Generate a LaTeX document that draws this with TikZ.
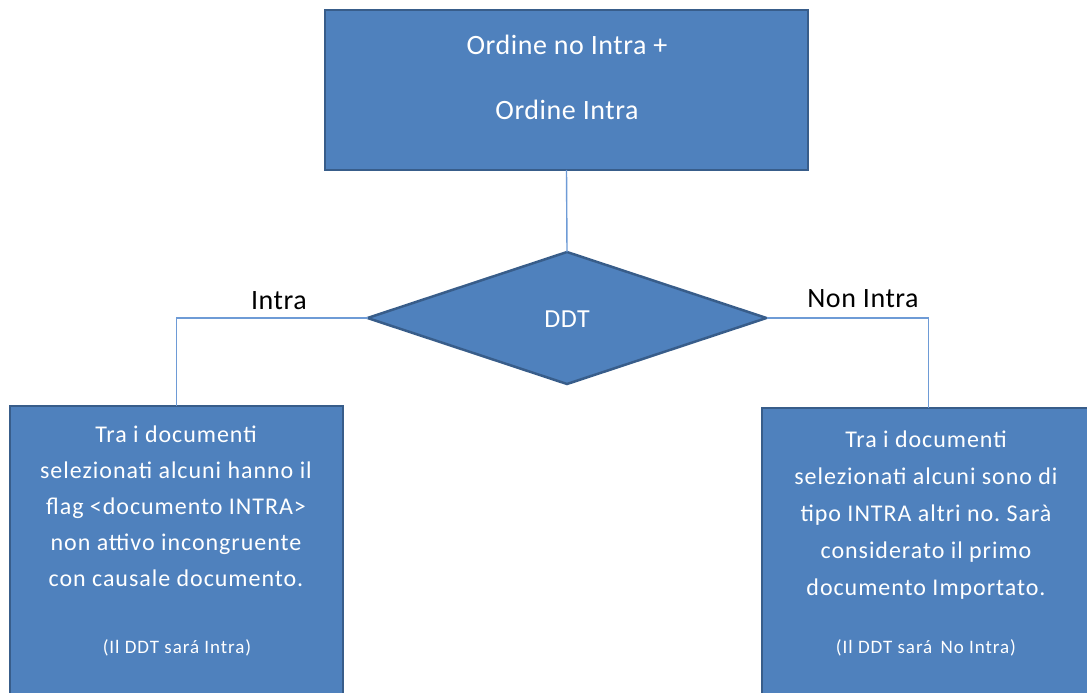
\documentclass[tikz,border=0pt]{standalone}
\usepackage{fontspec}
\setmainfont{Carlito}
\newfontfamily\spwide{Carlito}[LetterSpace=4]
\newfontfamily\spsmall{Carlito}[LetterSpace=5]
\newfontfamily\sptight{Carlito}[LetterSpace=2]
\usetikzlibrary{shapes.geometric}
\frenchspacing
\definecolor{boxfill}{HTML}{4F81BD}
\definecolor{boxline}{HTML}{385D8A}
\definecolor{conn}{HTML}{6E9BD6}
\tikzset{
  flowbox/.style={draw=boxline, line width=2.5pt, fill=boxfill, rectangle, inner sep=0pt, outer sep=0pt, anchor=north west},
  decbox/.style={draw=boxline, line width=2.5pt, fill=boxfill, diamond, inner sep=0pt, outer sep=0pt},
  wtext/.style={text=white, align=center, inner sep=0pt},
  conline/.style={draw=conn, line width=1.4pt},
  lbl/.style={text=black, inner sep=0pt, font=\sptight\fontsize{28}{32}\selectfont}
}
\begin{document}
\begin{tikzpicture}[x=1pt,y=-1pt]
\useasboundingbox (0,0) rectangle (1087,693);
\node[flowbox, minimum width=483pt, minimum height=160pt] (top) at (325,10) {};
\node[decbox, minimum width=399pt, minimum height=132pt] (ddt) at (567,318) {};
\node[flowbox, minimum width=333pt, minimum height=300pt] (left) at (10,406) {};
\node[flowbox, minimum width=333pt, minimum height=300pt] (right) at (762,408) {};
\draw[conline] (top.south) -- (ddt.north);
\draw[conline] (ddt.west) -| (left.north);
\draw[conline] (ddt.east) -| (right.north);
\node[wtext, font=\sptight\fontsize{28}{32}\selectfont] (t1) at (567,45) {Ordine no Intra +};
\node[wtext, font=\sptight\fontsize{28}{32}\selectfont] (t2) at (567,110) {Ordine Intra};
\node[wtext, font=\sptight\fontsize{26}{30}\selectfont] (dt) at (567,319) {DDT};
\node[lbl] (li) at (279,301) {Intra};
\node[lbl] (ln) at (863,299) {Non Intra};
\node[wtext, font=\spwide\fontsize{24}{35.8}\selectfont, anchor=north] (lt) at (176,426) {Tra i documenti\\selezionati alcuni hanno il\\flag <documento INTRA>\\non attivo incongruente\\con causale documento.};
\node[wtext, font=\spsmall\fontsize{19}{22}\selectfont] (ls) at (177,648) {(Il DDT sará Intra)};
\node[wtext, font=\spwide\fontsize{24}{37}\selectfont, anchor=north] (rt) at (926,431) {Tra i documenti\\selezionati alcuni sono di\\tipo INTRA altri no. Sarà\\considerato il primo\\documento Importato.};
\node[wtext, font=\spsmall\fontsize{19}{22}\selectfont] (rs) at (926,648) {(Il DDT sará\, No Intra)};
\end{tikzpicture}
\end{document}
